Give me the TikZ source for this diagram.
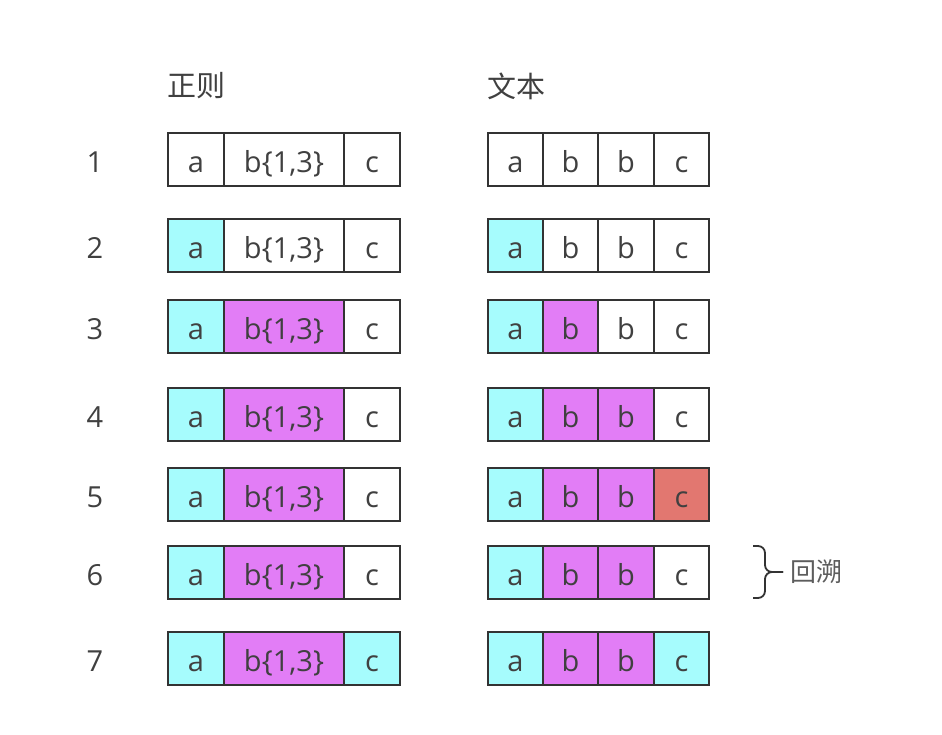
\documentclass[tikz,border=0pt]{standalone}
\usepackage{fontspec}
\setmainfont{Open Sans}
\newfontfamily\cjk{Noto Sans CJK SC}

\definecolor{txtgray}{HTML}{404040}
\definecolor{linegray}{HTML}{333333}
\definecolor{hitcyan}{HTML}{A6FCFD}
\definecolor{hitpink}{HTML}{E27DF6}
\definecolor{missred}{HTML}{E27770}

\tikzset{
  cell/.style={draw=linegray, line width=1.6pt, inner sep=0pt,
    minimum height=53pt, text height=28pt, text depth=3pt,
    text=txtgray, font=\fontsize{29}{29}\selectfont},
  rownum/.style={inner sep=0pt, text height=28pt, text depth=3pt,
    text=txtgray, font=\fontsize{29}{29}\selectfont},
  head/.style={text=txtgray, font=\cjk\fontsize{29}{29}\selectfont},
}

\begin{document}
\begin{tikzpicture}[x=1pt, y=-1pt]
    \useasboundingbox (0,0) rectangle (942,734);

    \node[head] (hregex) at (196,86) {正则};
    \node[head] (htext) at (516,86) {文本};

    % one row per step: y, then fills of the regex cells and of the text cells
    \foreach \r/\y/\la/\lb/\lc/\ra/\rb/\rc/\rd in {
        1/159.5/white/white/white/white/white/white/white,
        2/245.5/hitcyan/white/white/hitcyan/white/white/white,
        3/326.5/hitcyan/hitpink/white/hitcyan/hitpink/white/white,
        4/414.5/hitcyan/hitpink/white/hitcyan/hitpink/hitpink/white,
        5/494.5/hitcyan/hitpink/white/hitcyan/hitpink/hitpink/missred,
        6/572.5/hitcyan/hitpink/white/hitcyan/hitpink/hitpink/white,
        7/658.5/hitcyan/hitpink/hitcyan/hitcyan/hitpink/hitpink/hitcyan} {
      \node[rownum] (n\r) at (95,\y) {\r};
      % regex
      \node[cell, fill=\la, minimum width=56pt] (la\r) at (196,\y) {a};
      \node[cell, fill=\lb, minimum width=120pt] (lb\r) at (284,\y) {b\{1,3\}};
      \node[cell, fill=\lc, minimum width=56pt] (lc\r) at (372,\y) {c};
      % text
      \node[cell, fill=\ra, minimum width=55pt] (ra\r) at (515.5,\y) {a};
      \node[cell, fill=\rb, minimum width=55pt] (rb\r) at (570.5,\y) {b};
      \node[cell, fill=\rc, minimum width=56pt] (rc\r) at (626,\y) {b};
      \node[cell, fill=\rd, minimum width=55pt] (rd\r) at (681.5,\y) {c};
    }

    % brace for the step back
    \coordinate (btip) at (783,572);
    \draw[linegray, line width=1.8pt, rounded corners=7pt]
      (753,546) -- (765,546) -- (765,572) -- (btip);
    \draw[linegray, line width=1.8pt, rounded corners=7pt]
      (753,598) -- (765,598) -- (765,572) -- (btip);
    \node[head, text=txtgray!85, font=\cjk\fontsize{26}{26}\selectfont, anchor=west,
      xshift=4pt] (back) at (btip) {回溯};
  \end{tikzpicture}
\end{document}
